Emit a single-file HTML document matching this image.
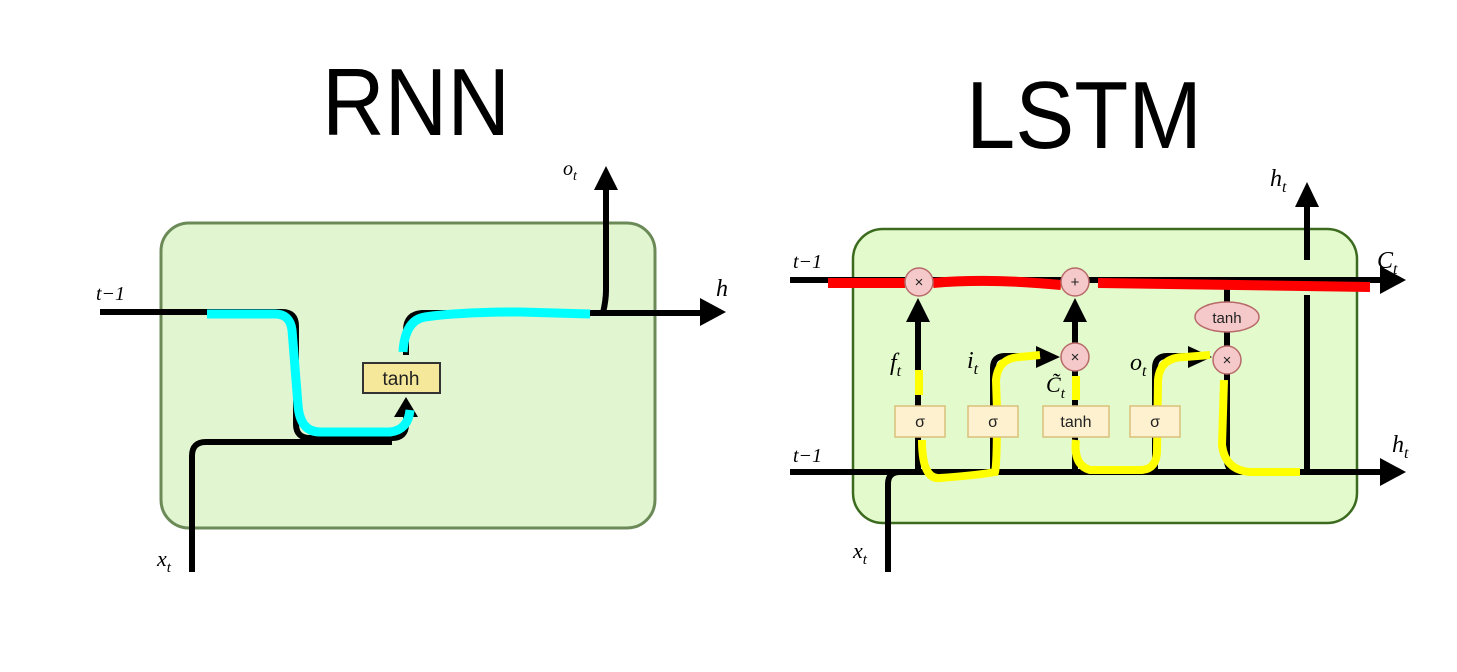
<!DOCTYPE html>
<html><head><meta charset="utf-8"><style>
html,body{margin:0;padding:0;background:#fff;}
svg{display:block;}
</style></head><body>
<svg width="1457" height="672" viewBox="0 0 1457 672" xmlns="http://www.w3.org/2000/svg" font-family="Liberation Sans, sans-serif">
<rect width="1457" height="672" fill="#fff"/>
<text x="322" y="135" font-size="96" textLength="188" lengthAdjust="spacingAndGlyphs">RNN</text>
<text x="966" y="148" font-size="96" textLength="236" lengthAdjust="spacingAndGlyphs">LSTM</text>

<!-- RNN -->
<rect x="161" y="223" width="494" height="305" rx="28" fill="#e0f5d0" stroke="#6b8a58" stroke-width="3"/>
<g fill="none" stroke="#000" stroke-width="6" stroke-linecap="butt">
<path d="M100 312 H282 Q296 312 296 326 V424 Q296 438 310 438 H392 Q406 438 406 424 V410"/>
<path d="M192 572 V456 Q192 442 206 442 H392"/>
<path d="M406 355 V330 Q406 314 422 313 H700"/>
<path d="M603 313 Q606 300 606 290 V188"/>
</g>
<polygon points="594,190 618,190 606,166" fill="#000"/>
<polygon points="700,298 726,312 700,326" fill="#000"/>
<polygon points="394,417 418,417 406,397" fill="#000"/>
<g fill="none" stroke="#00ffff" stroke-width="9" stroke-linecap="butt">
<path d="M207 314 H275 Q290 314 292 330 L298 405 Q300 432 320 432 H390 Q408 430 410 410"/>
<path d="M403 352 Q405 320 425 317 Q460 312 520 312 L590 314"/>
</g>
<rect x="363" y="363" width="77" height="30" fill="#f5e89a" stroke="#333" stroke-width="2"/>
<text x="401" y="385" font-size="19" text-anchor="middle" fill="#222">tanh</text>
<text x="563" y="175" font-size="20" font-family="Liberation Serif, serif" font-style="italic">o<tspan font-size="14" dy="5">t</tspan></text>
<text x="96" y="300" font-size="20" font-family="Liberation Serif, serif" font-style="italic">t−1</text>
<text x="716" y="296" font-size="24" font-family="Liberation Serif, serif" font-style="italic">h</text>
<text x="157" y="566" font-size="22" font-family="Liberation Serif, serif" font-style="italic">x<tspan font-size="15" dy="6">t</tspan></text>

<!-- LSTM -->
<rect x="853" y="229" width="504" height="294" rx="30" fill="#e3fbcc" stroke="#3c6a1e" stroke-width="2.5"/>
<g fill="none" stroke="#000" stroke-width="6">
<path d="M790 280 H1382"/>
<path d="M790 472 H1382"/>
<path d="M888 572 V484 Q888 472 900 472"/>
<path d="M918 472 V320"/>
<path d="M993 472 V368 Q993 356 1005 356 H1040"/>
<path d="M1075 472 V320"/>
<path d="M1155 472 V368 Q1155 356 1167 356 H1195"/>
<path d="M1227 280 V460 Q1227 472 1239 472"/>
<path d="M1307 472 V295"/>
<path d="M1307 260 V205"/>
</g>
<g fill="none" stroke="#ff0000" stroke-width="10">
<path d="M828 283 H905"/>
<path d="M933 283 Q990 278 1061 285"/>
<path d="M1098 283 L1370 287"/>
</g>
<polygon points="1380,266 1406,280 1380,294" fill="#000"/>
<polygon points="1380,458 1406,472 1380,486" fill="#000"/>
<polygon points="1295,207 1319,207 1307,182" fill="#000"/>
<polygon points="906,322 930,322 918,298" fill="#000"/>
<polygon points="1063,322 1087,322 1075,298" fill="#000"/>
<polygon points="1036,346 1060,357 1036,368" fill="#000"/>
<polygon points="1188,346 1212,357 1188,368" fill="#000"/>
<g fill="none" stroke="#ffff00" stroke-width="8">
<path d="M919 370 V395"/>
<path d="M922 440 Q922 480 940 478 Q980 475 995 472 Q997 465 997 410 L996 380 Q998 358 1020 357 L1040 355"/>
<path d="M1076 440 Q1073 465 1090 470 H1140 Q1157 470 1157 450 L1158 380 Q1160 357 1185 357 L1210 355"/>
<path d="M1076 376 V400"/>
<path d="M1224 380 L1222 445 Q1225 470 1250 472 H1300"/>
</g>
<g fill="#f5c9c9" stroke="#b86a6a" stroke-width="1.5">
<circle cx="919" cy="282" r="14"/>
<circle cx="1075" cy="282" r="14"/>
<circle cx="1075" cy="357" r="14"/>
<circle cx="1227" cy="360" r="14"/>
<ellipse cx="1227" cy="317" rx="32" ry="15"/>
</g>
<g font-size="15" text-anchor="middle" fill="#222">
<text x="919" y="287">×</text><text x="1075" y="287">+</text>
<text x="1075" y="362">×</text><text x="1227" y="365">×</text>
<text x="1227" y="323">tanh</text>
</g>
<g fill="#fdf1cf" stroke="#d9c07a" stroke-width="1.5">
<rect x="895" y="406" width="50" height="31"/>
<rect x="968" y="406" width="50" height="31"/>
<rect x="1043" y="406" width="66" height="31"/>
<rect x="1130" y="406" width="50" height="31"/>
</g>
<g font-size="16" text-anchor="middle" fill="#222">
<text x="920" y="427">σ</text><text x="993" y="427">σ</text>
<text x="1076" y="427">tanh</text><text x="1155" y="427">σ</text>
</g>
<g font-family="Liberation Serif, serif" font-style="italic" fill="#000">
<text x="1270" y="186" font-size="24">h<tspan font-size="16" dy="6">t</tspan></text>
<text x="1377" y="268" font-size="24">C<tspan font-size="16" dy="6">t</tspan></text>
<text x="1392" y="452" font-size="24">h<tspan font-size="16" dy="6">t</tspan></text>
<text x="793" y="268" font-size="20">t−1</text>
<text x="793" y="462" font-size="20">t−1</text>
<text x="853" y="558" font-size="22">x<tspan font-size="15" dy="6">t</tspan></text>
<text x="890" y="370" font-size="24">f<tspan font-size="16" dy="6">t</tspan></text>
<text x="967" y="368" font-size="24">i<tspan font-size="16" dy="6">t</tspan></text>
<text x="1130" y="370" font-size="24">o<tspan font-size="16" dy="6">t</tspan></text>
<text x="1046" y="392" font-size="22">C̃<tspan font-size="15" dy="6">t</tspan></text>
</g>
</svg>
</body></html>
